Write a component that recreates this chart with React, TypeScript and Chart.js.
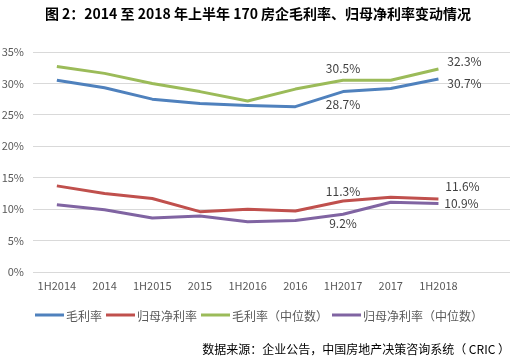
import React, { useEffect, useRef } from "react";
import { Chart, registerables } from "chart.js";

Chart.register(...registerables);

const categories = ["1H2014", "2014", "1H2015", "2015", "1H2016", "2016", "1H2017", "2017", "1H2018", ""];
const grossMargin = [30.5, 29.3, 27.5, 26.8, 26.5, 26.3, 28.7, 29.2, 30.7, null];
const netMargin = [13.7, 12.5, 11.7, 9.6, 10.0, 9.7, 11.3, 11.9, 11.6, null];
const grossMedian = [32.7, 31.6, 30.0, 28.7, 27.2, 29.1, 30.5, 30.5, 32.3, null];
const netMedian = [10.7, 9.9, 8.6, 8.9, 8.0, 8.2, 9.2, 11.1, 10.9, null];
const seriesNames = ["毛利率", "归母净利率", "毛利率（中位数）", "归母净利率（中位数）"];
const labelIndices = [6, 8];
const yTicks = [0, 5, 10, 15, 20, 25, 30, 35];

const titleText = "图 2：2014 至 2018 年上半年 170 房企毛利率、归母净利率变动情况";
const sourceText = "数据来源：企业公告，中国房地产决策咨询系统（ CRIC ）";

const colors = ["#4F81BD", "#C0504D", "#9BBB59", "#8064A2"];
const FONT = "'Noto Sans CJK SC', 'Noto Sans', sans-serif";

// label offsets per series per labelled index (dx, dy relative to point)
const labelOffsets: Record<number, Record<number, [number, number]>> = {
  0: { 6: [0, 13], 8: [26, 4] },
  1: { 6: [0, -10], 8: [24, -13] },
  2: { 6: [0, -12], 8: [26, -8] },
  3: { 6: [0, 9], 8: [23, 0] },
};

const decorPlugin = {
  id: "decor",
  afterDraw(chart: any) {
    const ctx = chart.ctx;
    ctx.save();
    // title
    ctx.font = `bold 14px ${FONT}`;
    ctx.fillStyle = "#000000";
    ctx.textAlign = "center";
    ctx.textBaseline = "middle";
    ctx.fillText(titleText, 258, 14);

    // data labels
    ctx.font = `12px ${FONT}`;
    ctx.fillStyle = "#404040";
    chart.data.datasets.forEach((ds: any, di: number) => {
      const meta = chart.getDatasetMeta(di);
      labelIndices.forEach((i) => {
        const el = meta.data[i];
        const v = ds.data[i];
        if (!el || v == null) return;
        const [dx, dy] = labelOffsets[di][i];
        ctx.fillText(v.toFixed(1) + "%", el.x + dx, el.y + dy);
      });
    });

    // legend
    ctx.font = `12px ${FONT}`;
    ctx.textAlign = "left";
    let x = 35;
    const ly = 315;
    seriesNames.forEach((name, i) => {
      ctx.strokeStyle = colors[i];
      ctx.lineWidth = 3;
      ctx.beginPath();
      ctx.moveTo(x, ly);
      ctx.lineTo(x + 29, ly);
      ctx.stroke();
      x += 31;
      ctx.fillStyle = "#595959";
      ctx.fillText(name, x, ly + 1);
      x += ctx.measureText(name).width + 4;
    });

    // source
    ctx.font = `12px ${FONT}`;
    ctx.fillStyle = "#000000";
    ctx.textAlign = "right";
    ctx.fillText(sourceText, 510, 349);
    ctx.restore();
  },
};

export default function App() {
  const ref = useRef<HTMLCanvasElement>(null);
  useEffect(() => {
    const series = [grossMargin, netMargin, grossMedian, netMedian];
    const chart = new Chart(ref.current!, {
      type: "line",
      data: {
        labels: categories,
        datasets: series.map((d, i) => ({
          label: seriesNames[i],
          data: d,
          borderColor: colors[i],
          backgroundColor: colors[i],
          borderWidth: 3,
          pointRadius: 0,
          tension: 0,
          borderJoinStyle: "round" as const,
        })),
      },
      options: {
        animation: false,
        responsive: false,
        layout: { padding: { left: 0, right: 7, top: 52, bottom: 58 } },
        plugins: {
          legend: { display: false },
          title: { display: false },
          tooltip: { enabled: false },
        },
        scales: {
          x: {
            offset: true,
            grid: { display: false, drawTicks: false },
            border: { display: false },
            ticks: {
              color: "#595959",
              font: { family: FONT, size: 11 },
              padding: 7,
              maxRotation: 0,
              autoSkip: false,
            },
            afterFit(scale: any) {
              scale.height = 30;
            },
          },
          y: {
            min: 0,
            max: 35,
            afterBuildTicks(scale: any) {
              scale.ticks = yTicks.map((v) => ({ value: v }));
            },
            grid: { color: "#D9D9D9", drawTicks: false, lineWidth: 1 },
            border: { display: false },
            ticks: {
              color: "#595959",
              font: { family: FONT, size: 11 },
              padding: 9,
              callback: (v: any) => v + "%",
            },
            afterFit(scale: any) {
              scale.width = 33;
            },
          },
        },
      },
      plugins: [decorPlugin],
    });
    return () => chart.destroy();
  }, []);
  return (
    <div style={{ position: "fixed", left: 0, top: 0, width: 517, height: 360, background: "#fff" }}>
      <canvas ref={ref} width={517} height={360} style={{ width: 517, height: 360 }} />
    </div>
  );
}
